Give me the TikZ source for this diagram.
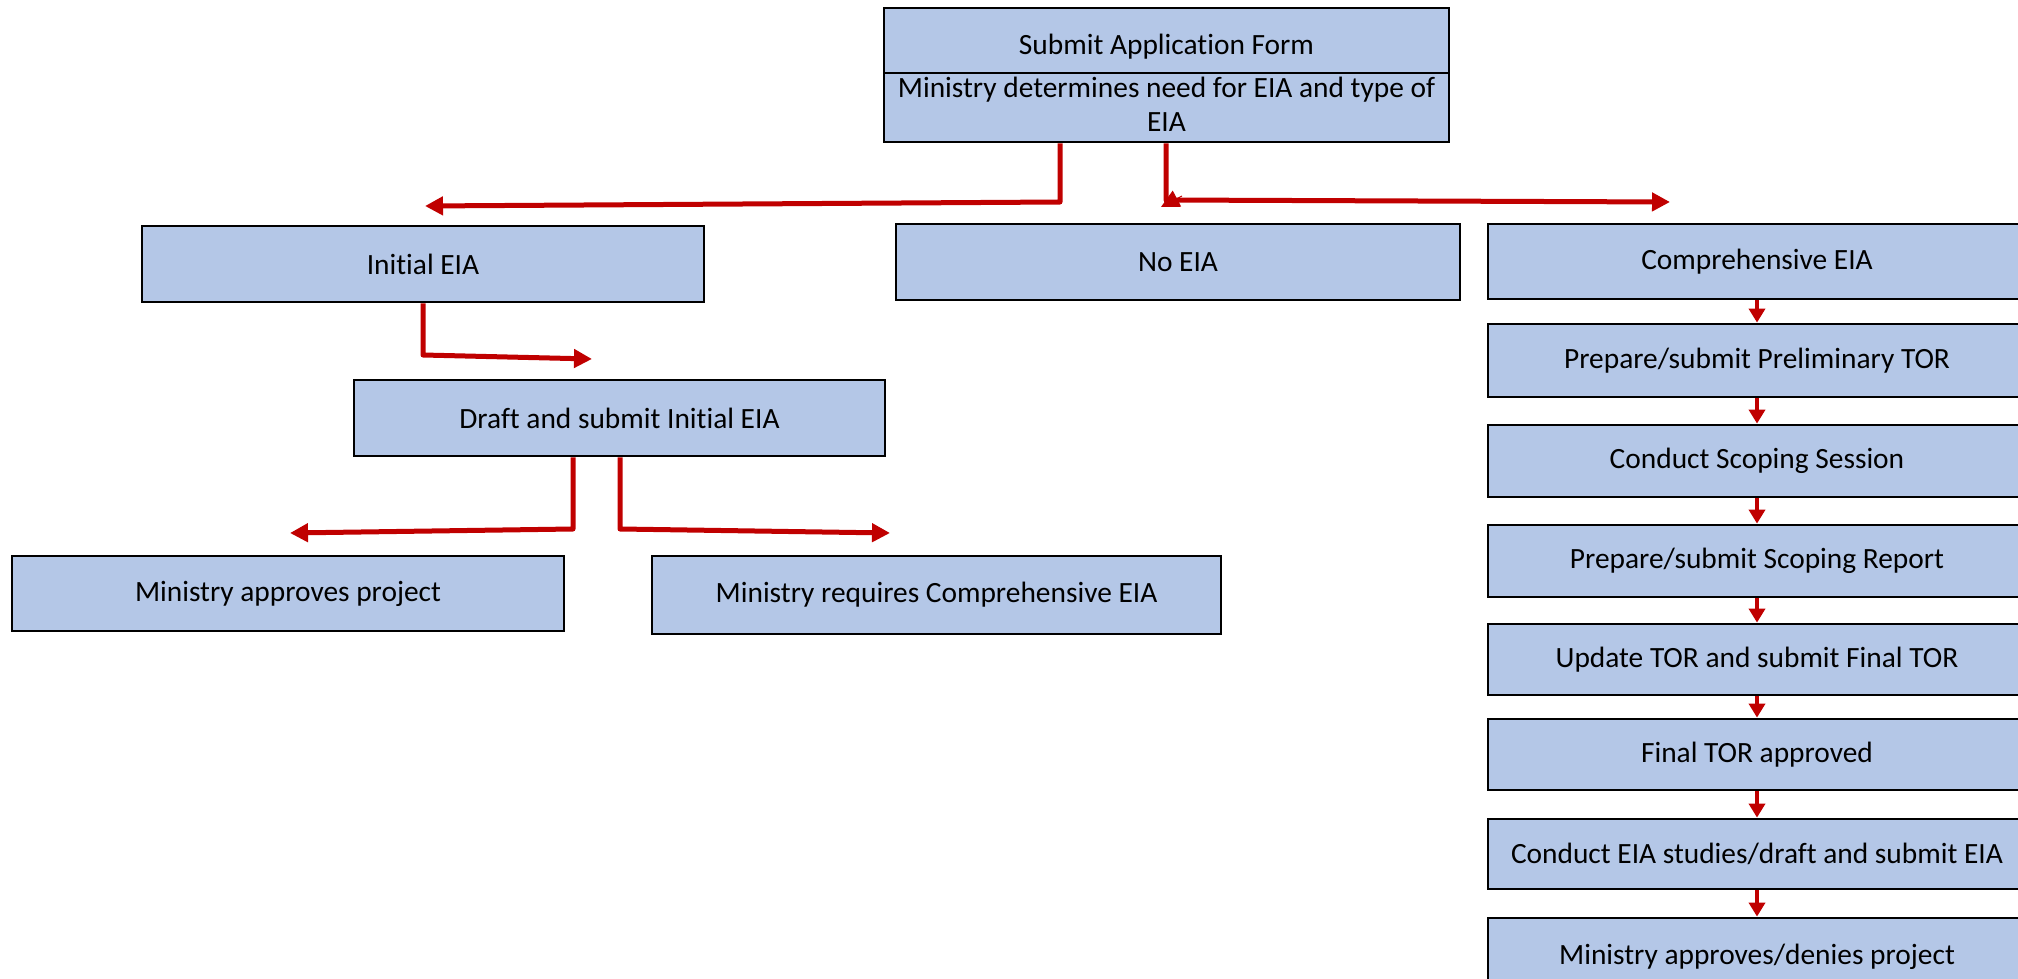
\documentclass[tikz,border=0pt]{standalone}
\usepackage{fontspec}
\setmainfont{Carlito}[Ligatures={NoCommon}]
\usetikzlibrary{arrows.meta}
\definecolor{boxfill}{HTML}{B4C7E7}
\definecolor{connred}{HTML}{C00000}
\tikzset{
  box/.style={draw=black, line width=1.4pt, fill=boxfill, inner sep=0pt, align=center, font=\fontsize{14.7}{17}\selectfont},
  boxtext/.style={inner sep=0pt, align=center, font=\fontsize{14.7}{17}\selectfont},
  conn/.style={draw=connred, line width=2.5pt, line join=round, -{Triangle[length=9pt,width=9pt]}},
  vconn/.style={draw=connred, line width=2pt, -{Triangle[length=7pt,width=8pt]}},
  tiponly/.style={draw=connred, line width=0.5pt, -{Triangle[length=9pt,width=9pt]}}
}
\newcommand\mybox[6]{\node[box, minimum width={(#4-#2)*0.5pt}, minimum height={(#5-#3)*0.5pt}] (#1) at ({(#2+#4)/2},{(#3+#5)/2}) {#6};}
\begin{document}
\begin{tikzpicture}[x=0.5pt,y=-0.5pt]
\useasboundingbox (0,0) rectangle (2018,979);
\clip (0,0) rectangle (2018,979);
% top box
\mybox{top1}{884}{8}{1449}{73}{}
\mybox{top2}{884}{73}{1449}{142}{}
\node[boxtext, yshift=-3pt] (top1t) at (top1) {Submit Application Form};
\node[boxtext, yshift=1.5pt] (top2t) at (top2) {Ministry determines need for EIA and type of\\EIA};
% second row
\mybox{init}{142}{226}{704}{302}{Initial EIA}
\mybox{noeia}{896}{224}{1460}{300}{No EIA}
% right column
\mybox{c0}{1488}{224}{2026}{299}{Comprehensive EIA}
\mybox{c1}{1488}{324}{2026}{397}{Prepare/submit Preliminary TOR}
\mybox{c2}{1488}{425}{2026}{497}{Conduct Scoping Session}
\mybox{c3}{1488}{525}{2026}{597}{Prepare/submit Scoping Report}
\mybox{c4}{1488}{624}{2026}{695}{Update TOR and submit Final TOR}
\mybox{c5}{1488}{719}{2026}{790}{Final TOR approved}
\mybox{c6}{1488}{819}{2026}{889}{Conduct EIA studies/draft and submit EIA}
\mybox{c7}{1488}{918}{2026}{995}{Ministry approves/denies project}
% initial branch
\mybox{draft}{354}{380}{885}{456}{Draft and submit Initial EIA}
\mybox{appr}{12}{556}{564}{631}{Ministry approves project}
\mybox{reqc}{652}{556}{1221}{634}{Ministry requires Comprehensive EIA}
% coordinates for connector bends and tips
\coordinate (aB) at (1060,202);
\coordinate (aT) at (425,206);
\coordinate (bB) at (1166,200);
\coordinate (bT) at (1670,202);
\coordinate (bS) at (1182,196);
\coordinate (bL) at (1161,207);
\coordinate (cB) at (423,355);
\coordinate (cT) at (592,359);
\coordinate (dB) at (573,529);
\coordinate (dT) at (290,533);
\coordinate (eB) at (620,529);
\coordinate (eT) at (890,533);
% connectors
\draw[conn] (top2.south -| aB) -- (aB) -- (aT);
\draw[conn] (top2.south -| bB) -- (bB) -- (bT);
\draw[tiponly] (bS) -- (bL);
\draw[conn] (init.south -| cB) -- (cB) -- (cT);
\draw[conn] (draft.south -| dB) -- (dB) -- (dT);
\draw[conn] (draft.south -| eB) -- (eB) -- (eT);
\foreach \a/\b in {c0/c1,c1/c2,c2/c3,c3/c4,c4/c5,c5/c6,c6/c7}
  \draw[vconn] (\a.south) -- (\b.north);
\end{tikzpicture}
\end{document}
